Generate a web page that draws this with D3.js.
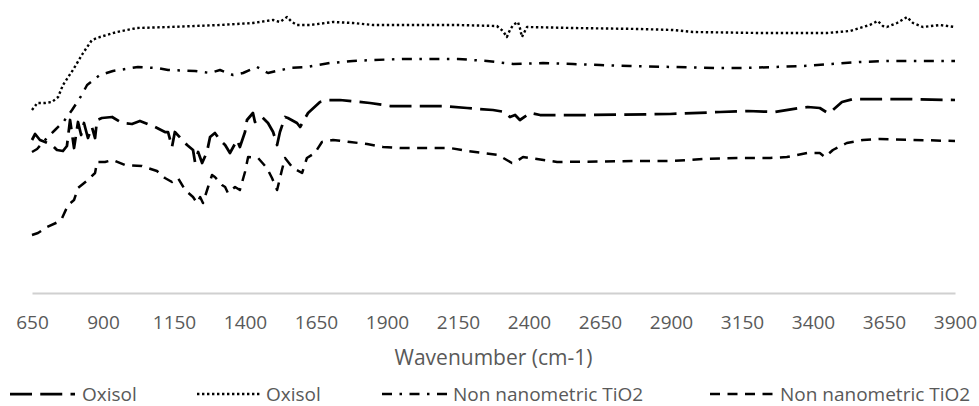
<!DOCTYPE html>
<html>
<head>
<meta charset="utf-8">
<script src="https://cdn.jsdelivr.net/npm/d3@7/dist/d3.min.js"></script>
<style>
  html, body { margin: 0; padding: 0; background: #fff; }
  svg { display: block; }
  text { font-family: "Open Sans", "Noto Sans", sans-serif; fill: #595959; }
</style>
</head>
<body>
<svg id="chart" width="979" height="406"></svg>
<script>
// ---- data (wavenumber cm-1, relative transmittance a.u.) ----
const seriesNames = ["Oxisol", "Oxisol", "Non nanometric TiO2", "Non nanometric TiO2"];
const xTicks = [650, 900, 1150, 1400, 1650, 1900, 2150, 2400, 2650, 2900, 3150, 3400, 3650, 3900];

// Oxisol (long dash)
const oxisolA_x = [650,661,678,696,720,738,759,773,784,798,812,823,833,847,861,872,879,896,932,967,1002,1030,1048,1083,1118,1129,1143,1153,1196,1217,1224,1235,1249,1266,1277,1294,1312,1330,1347,1372,1382,1400,1407,1428,1435,1460,1481,1499,1513,1523,1541,1551,1583,1594,1618,1622,1664,1692,1734,1840,1911,2097,2182,2273,2315,2333,2351,2368,2404,2439,2615,2896,3073,3171,3266,3354,3382,3424,3452,3470,3502,3541,3706,3900];
const oxisolA_y = [153,159,153,151,148,143,142,147,173,145,171,158,170,155,166,155,173,175,176,170,169,172,170,166,161,161,146,161,148,143,131,141,130,141,156,160,153,148,140,153,146,161,173,180,171,176,170,161,148,161,176,175,170,166,178,180,191,193,193,190,187,187,185,183,181,176,178,173,180,178,178,179,181,182,181,185,186,185,180,183,191,194,194,193];

// Oxisol (dotted)
const oxisolB_x = [650,661,668,696,720,742,759,794,830,861,889,949,1020,1136,1312,1428,1499,1523,1548,1565,1583,1629,1710,1780,1851,2146,2287,2308,2322,2333,2344,2361,2368,2375,2393,2555,2791,2907,2977,3213,3449,3530,3565,3600,3628,3646,3660,3696,3731,3752,3787,3847,3900];
const oxisolB_y = [183,187,190,190,191,196,208,223,240,253,256,261,265,266,268,270,273,271,276,271,268,268,271,270,268,268,267,262,256,263,268,271,265,256,266,265,264,263,261,260,260,262,265,268,272,267,266,270,276,270,266,268,266];

// Non nanometric TiO2 (dash-dot)
const tio2A_x = [650,668,696,731,763,791,823,844,889,935,1023,1090,1129,1224,1277,1312,1358,1393,1442,1481,1558,1618,1699,1780,1851,1957,2150,2252,2344,2449,2555,2650,2756,2907,3062,3161,3259,3364,3466,3565,3664,3900];
const tio2A_y = [141,144,153,163,172,183,197,208,218,222,226,225,223,222,220,223,218,220,226,220,225,226,230,232,233,234,234,232,229,230,229,228,227,226,225,225,226,227,229,231,232,232];

// Non nanometric TiO2 (dash)
const tio2B_x = [650,671,703,742,756,777,798,812,847,872,879,907,935,977,1037,1090,1118,1143,1164,1189,1217,1231,1242,1252,1270,1284,1294,1319,1330,1340,1365,1382,1400,1411,1446,1477,1495,1513,1530,1541,1569,1601,1618,1646,1671,1710,1770,1830,1886,1946,2122,2182,2238,2291,2340,2358,2379,2428,2499,2791,2907,3013,3132,3249,3308,3379,3424,3442,3470,3519,3576,3636,3900];
const tio2B_y = [58,60,66,71,75,88,93,105,113,120,131,131,133,128,127,122,115,111,115,103,96,90,96,90,106,118,116,108,106,100,106,103,121,136,135,125,115,103,123,135,125,120,135,140,151,153,151,149,146,145,145,142,140,138,130,132,136,134,131,132,132,134,135,135,136,140,140,136,143,150,153,154,152];

// ---- layout ----
const svg = d3.select("#chart");
const x = d3.scaleLinear().domain([650, 3900]).range([32, 955]);
const y = d3.scaleLinear().domain([0, 293]).range([293, 0]);

const styles = [
  { w: 2.75, dash: "22 8.25" },
  { w: 2.4, dash: "2.4 2.6" },
  { w: 2.5, dash: "10 7.5 2.5 7.5" },
  { w: 2.5, dash: "10 7.5" }
];

const series = [
  d3.zip(oxisolA_x, oxisolA_y),
  d3.zip(oxisolB_x, oxisolB_y),
  d3.zip(tio2A_x, tio2A_y),
  d3.zip(tio2B_x, tio2B_y)
];

// axis
const axis = d3.axisBottom(x).tickValues(xTicks).tickSize(0).tickPadding(0).tickFormat(d3.format("d"));
const gAxis = svg.append("g").attr("transform", "translate(0,293)").call(axis);
gAxis.select(".domain").attr("stroke", "#d0d0d0").attr("stroke-width", 2);
gAxis.selectAll(".tick text")
  .attr("y", 36).attr("dy", null)
  .style("font-size", "19px")
  .style("font-family", "'Open Sans', sans-serif")
  .attr("fill", "#595959");

svg.append("text")
  .attr("x", (x.range()[0] + x.range()[1]) / 2)
  .attr("y", 365)
  .attr("text-anchor", "middle")
  .style("font-size", "21px")
  .text("Wavenumber (cm-1)");

// lines
const line = d3.line().x(d => x(d[0])).y(d => y(d[1]));
series.forEach((s, i) => {
  svg.append("path")
    .datum(s)
    .attr("d", line)
    .attr("fill", "none")
    .attr("stroke", "#000")
    .attr("stroke-width", styles[i].w)
    .attr("stroke-dasharray", styles[i].dash)
    .attr("stroke-linejoin", "round");
});

// legend
const legendPos = [
  { lx: 10, tx: 82 },
  { lx: 197, tx: 266 },
  { lx: 382, tx: 453 },
  { lx: 710, tx: 780 }
];
const legY = 394;
seriesNames.forEach((name, i) => {
  const g = svg.append("g");
  g.append("line")
    .attr("x1", legendPos[i].lx).attr("x2", legendPos[i].lx + 65)
    .attr("y1", legY).attr("y2", legY)
    .attr("stroke", "#000")
    .attr("stroke-width", styles[i].w)
    .attr("stroke-dasharray", styles[i].dash);
  g.append("text")
    .attr("x", legendPos[i].tx)
    .attr("y", legY + 7)
    .style("font-size", "19px")
    .text(name);
});
</script>
</body>
</html>
